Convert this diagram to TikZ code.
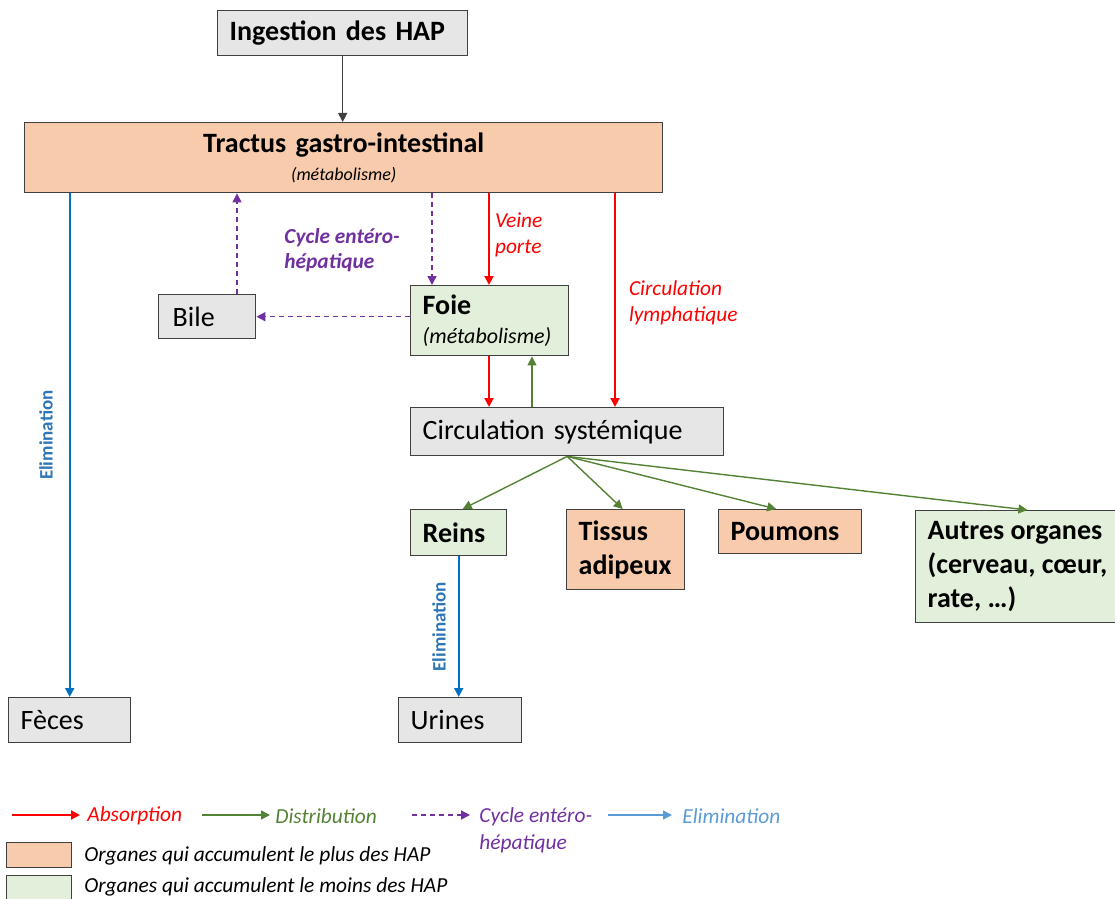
\documentclass[tikz,border=0pt]{standalone}
\usepackage{fontspec}
\setmainfont{Carlito}
\usetikzlibrary{arrows.meta}

\definecolor{boxline}{HTML}{404040}
\definecolor{grayfill}{HTML}{E7E6E6}
\definecolor{peachfill}{HTML}{F8CBAD}
\definecolor{greenfill}{HTML}{E2EFDA}
\definecolor{absred}{HTML}{FF0000}
\definecolor{distgreen}{HTML}{548235}
\definecolor{cycpurple}{HTML}{7030A0}
\definecolor{elimblue}{HTML}{0070C0}
\definecolor{elimlabel}{HTML}{2E75B6}
\definecolor{elimlight}{HTML}{5B9BD5}

\tikzset{%
		every box/.style={
			draw=boxline,
			line width=0.7pt,
			anchor=north west,
			inner xsep=6pt,
			inner ysep=0pt,
			align=left,
			font=\fontsize{14}{17}\selectfont
		},
		box gray/.style={fill=grayfill},
		box peach/.style={fill=peachfill},
		box green/.style={fill=greenfill},
		absorb/.style={draw=absred, line width=1pt},
		distrib/.style={draw=distgreen, line width=0.7pt},
		entero/.style={draw=cycpurple, line width=0.7pt, dash pattern=on 2.5pt off 2pt},
		elim/.style={draw=elimblue, line width=1pt},
		lbl/.style={inner sep=0pt, align=left, anchor=west, font=\fontsize{10.7}{13}\selectfont\itshape}
	}

\begin{document}
\begin{tikzpicture}[x=0.5pt, y=-0.5pt, >={Triangle[length=4.5pt,width=4.5pt]}]
			\useasboundingbox (0,0) rectangle (1115,899);
			
			% draw boxes
			\node [every box, box gray, text width=113pt, minimum height=22.5pt] (ingest) at (217,10) {\bfseries Ingestion des HAP};
			\node [every box, box peach, align=center, text width=307pt, minimum height=35pt] (tractus) at (24,122) {\bfseries Tractus gastro-intestinal\\[-3pt]{\fontsize{9}{11}\selectfont\mdseries\itshape (métabolisme)}};
			\node [every box, box gray, inner xsep=7pt, text width=34.5pt, minimum height=22pt] (bile) at (158,294) {Bile};
			\node [every box, box green, text width=67pt, minimum height=35pt] (foie) at (410,285) {\bfseries Foie\\[-2.5pt]{\fontsize{11}{13}\selectfont\mdseries\itshape (métabolisme)}};
			\node [every box, box gray, text width=144.5pt, minimum height=24pt] (circ) at (410,407) {Circulation systémique};
			
			% draw organ boxes
			\node [every box, box green, text width=36pt, minimum height=23pt, font=\fontsize{14}{17}\selectfont\bfseries] (reins) at (410,509) {Reins};
			\node [every box, box peach, text width=47pt, minimum height=40pt, font=\fontsize{14}{17}\selectfont\bfseries] (tissus) at (566,509) {Tissus\\adipeux};
			\node [every box, box peach, text width=59.5pt, minimum height=22pt, font=\fontsize{14}{17}\selectfont\bfseries] (poumons) at (718,509) {Poumons};
			\node [every box, box green, minimum width=100pt, minimum height=56pt, font=\fontsize{14}{17}\selectfont\bfseries] (autres) at (915,510) {Autres organes\\(cerveau, cœur,\\rate, …)};
			
			% draw end boxes
			\node [every box, box gray, text width=49pt, minimum height=22.5pt] (feces) at (8,697) {Fèces};
			\node [every box, box gray, text width=49.5pt, minimum height=22.5pt] (urines) at (398,697) {Urines};
			
			% columns of the vertical arrows
			\coordinate (col-bile) at (237,0);
			\coordinate (col-foie) at (432,0);
			\coordinate (col-veine) at (489,0);
			\coordinate (col-back) at (532,0);
			\coordinate (col-lymph) at (615,0);
			
			% ingestion
			\draw [->, draw=boxline, line width=0.6pt] (ingest.south) -- (ingest.south |- tractus.north);
			
			% absorption arrows
			\draw [absorb, ->] (col-veine |- tractus.south) -- (col-veine |- foie.north)
			node [lbl, text=absred, pos=0.45, xshift=2.5pt] {Veine\\porte};
			\draw [absorb, ->] (col-lymph |- tractus.south) -- (col-lymph |- circ.north)
			node [lbl, text=absred, pos=0.49, xshift=6.5pt, yshift=-2.5pt] {Circulation\\lymphatique};
			\draw [absorb, ->] (col-veine |- foie.south) -- (col-veine |- circ.north);
			
			% entero-hepatic cycle
			\draw [entero, ->] (col-foie |- tractus.south) -- (col-foie |- foie.north);
			\draw [entero, ->] (foie.west |- bile.east) -- (bile.east);
			\draw [entero, ->] (col-bile |- bile.north) -- (col-bile |- tractus.south);
			\node [lbl, text=cycpurple, font=\fontsize{10.7}{12.5}\selectfont\bfseries\itshape] (lbl-cycle) at (284,250) {Cycle entéro-\\hépatique};
			
			% distribution arrows
			\draw [distrib, ->] (col-back |- circ.north) -- (col-back |- foie.south);
			\draw [distrib, ->] (circ.south) -- ([xshift=2pt]reins.north);
			\draw [distrib, ->] (circ.south) -- ([xshift=-1.5pt]tissus.north);
			\draw [distrib, ->] (circ.south) -- ([xshift=-7pt]poumons.north);
			\draw [distrib, ->] (circ.south) -- ([xshift=5pt]autres.north);
			
			% elimination arrows
			\draw [elim, ->] (tractus.south -| feces.north) -- (feces.north)
			node [pos=0.48, rotate=90, anchor=south, inner sep=0pt, yshift=8pt, text=elimlabel, font=\fontsize{9.5}{11}\selectfont\bfseries] {Elimination};
			\draw [elim, ->] (reins.south) -- (reins.south |- urines.north)
			node [midway, rotate=90, anchor=south, inner sep=0pt, yshift=6pt, text=elimlabel, font=\fontsize{9.5}{11}\selectfont\bfseries] {Elimination};
			
			% legend arrows
			\foreach \n/\s/\a/\b in {abs/absorb/12/80, dist/distrib/202/270, cyc/entero/412/470, elim/elim/608/672}
			{
				\coordinate (leg-\n-a) at (\a,815);
				\coordinate (leg-\n-b) at (\b,815);
			}
			\draw [absorb, ->] (leg-abs-a) -- (leg-abs-b);
			\draw [distrib, ->] (leg-dist-a) -- (leg-dist-b);
			\draw [entero, ->] (leg-cyc-a) -- (leg-cyc-b);
			\draw [elim, draw=elimlight, line width=0.7pt, ->] (leg-elim-a) -- (leg-elim-b);
			
			% legend texts
			\node [lbl, text=absred] (leg-abs) at (87,816) {Absorption};
			\node [lbl, text=distgreen] (leg-dist) at (275,816) {Distribution};
			\node [lbl, text=cycpurple, anchor=north west] (leg-cyc) at (479,807) {Cycle entéro-\\[0.6pt]hépatique};
			\node [lbl, text=elimlight] (leg-elim) at (682,816) {Elimination};
			
			% legend boxes
			\node [every box, box peach, inner sep=0pt, minimum width=32.5pt, minimum height=12.5pt] (leg-peach) at (6,842) {};
			\node [every box, box green, inner sep=0pt, minimum width=32.5pt, minimum height=12pt] (leg-green) at (6,875) {};
			\node [lbl] (leg-plus) at (84,856) {Organes qui accumulent le plus des HAP};
			\node [lbl] (leg-moins) at (84,887) {Organes qui accumulent le moins des HAP};
\end{tikzpicture}
\end{document}
